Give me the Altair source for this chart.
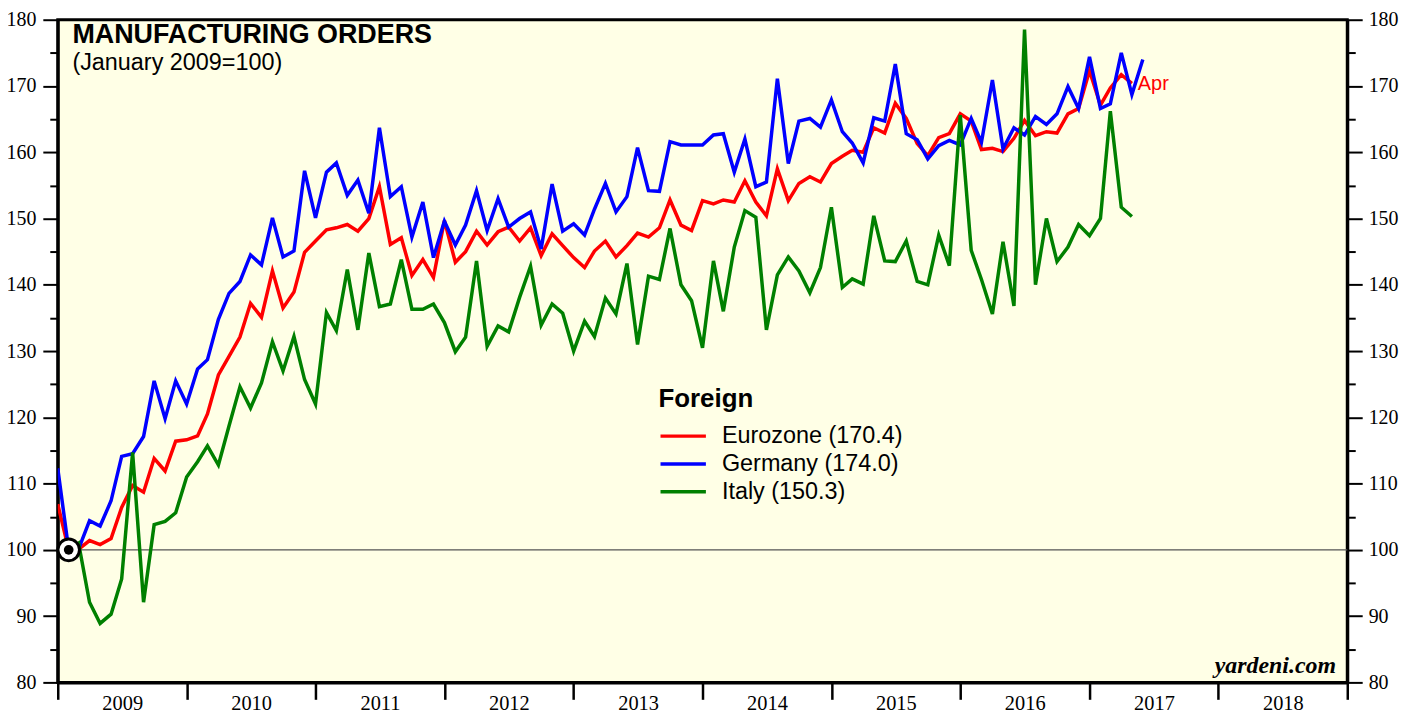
import altair as alt
import pandas as pd

TITLE = "MANUFACTURING ORDERS"
SUBTITLE = "(January 2009=100)"
LEGEND_TITLE = "Foreign"
SOURCE = "yardeni.com"
BASE = 100.0
BASE_MONTH = "2009-01"
FIRST_MONTH = "2008-12"

SERIES = ["Eurozone", "Germany", "Italy"]
COLORS = ["#ff0000", "#0000ff", "#008000"]

# monthly values, first entry = Dec 2008
eurozone = [
    106.9, 100.0, 100.1, 101.4, 100.8, 101.7, 106.4, 109.7, 108.7, 113.8, 111.9, 116.4, 116.6,
    117.2, 120.5, 126.4, 129.2, 132.1, 137.2, 135.1, 142.1, 136.5, 138.9, 144.9, 146.6,
    148.3, 148.6, 149.1, 148.1, 150.0, 154.8, 146.1, 147.1, 141.4, 143.8, 141.1, 149.7,
    143.4, 145.0, 148.1, 146.0, 148.0, 148.7, 146.6, 148.6, 144.4, 147.7, 145.9, 144.1,
    142.6, 145.1, 146.6, 144.2, 145.9, 147.8, 147.2, 148.6, 152.8, 149.0, 148.2, 152.7,
    152.2, 152.8, 152.5, 155.7, 152.5, 150.4, 157.5, 152.7, 155.3, 156.3, 155.5, 158.3,
    159.4, 160.3, 160.0, 163.7, 162.9, 167.4, 165.1, 161.3, 159.5, 162.2, 162.8, 165.8,
    164.7, 160.4, 160.6, 160.1, 162.1, 164.8, 162.5, 163.1, 162.9, 165.8, 166.6, 172.3,
    167.1, 169.7, 171.7, 170.4,
]
germany = [
    112.3, 100.0, 100.1, 104.4, 103.6, 107.4, 114.1, 114.5, 117.1, 125.5, 119.8, 125.5, 122.0,
    127.3, 128.7, 134.8, 138.7, 140.5, 144.5, 143.0, 150.1, 144.2, 145.1, 157.2, 150.1,
    157.0, 158.4, 153.5, 155.8, 150.8, 163.7, 153.3, 154.8, 147.2, 152.5, 144.1, 149.6,
    146.0, 149.0, 154.2, 148.2, 153.0, 148.7, 150.0, 151.0, 145.4, 155.2, 148.1, 149.2,
    147.5, 151.4, 155.3, 151.0, 153.3, 160.7, 154.2, 154.1, 161.6, 161.1, 161.1, 161.1,
    162.6, 162.8, 157.0, 162.0, 154.8, 155.5, 171.1, 158.3, 164.7, 165.1, 163.8, 167.9,
    163.1, 161.4, 158.4, 165.2, 164.7, 173.3, 162.8, 161.9, 159.0, 161.0, 161.8, 161.1,
    165.1, 161.5, 170.9, 160.5, 163.7, 162.6, 165.4, 164.2, 165.8, 169.9, 166.6, 174.4,
    166.6, 167.3, 175.0, 168.7, 174.0,
]
italy = [
    None, 100.0, 101.0, 92.1, 88.9, 90.3, 95.6, 114.7, 92.1, 103.8, 104.3, 105.6, 111.0,
    113.3, 115.7, 112.8, 118.7, 124.6, 121.4, 125.2, 131.4, 127.0, 132.2, 125.7, 122.0,
    135.8, 133.1, 142.3, 133.2, 144.8, 136.7, 137.1, 143.8, 136.3, 136.3, 137.1, 134.3,
    129.9, 132.1, 143.6, 130.7, 133.8, 132.9, 138.1, 142.8, 133.9, 137.1, 135.7, 130.0,
    134.5, 132.2, 138.0, 135.6, 143.2, 131.0, 141.3, 140.8, 148.5, 140.0, 137.6, 130.5,
    143.6, 136.0, 145.7, 151.2, 150.2, 133.2, 141.5, 144.2, 142.1, 138.8, 142.6, 151.7,
    139.6, 140.9, 140.1, 150.4, 143.6, 143.5, 146.6, 140.5, 140.0, 147.5, 142.9, 165.6,
    145.2, 140.8, 135.6, 146.5, 136.8, 178.5, 140.0, 150.0, 143.5, 145.7, 149.1, 147.4,
    150.0, 166.2, 151.7, 150.3,
]

YEAR_TICKS = list(range(2009, 2020))
Y_TICKS = list(range(80, 181, 5))

# ---------- tables ----------
rows = []
labels = []
for name, vals in zip(SERIES, [eurozone, germany, italy]):
    clean = [v for v in vals if v is not None]
    lab = f"{name} ({clean[-1]:.1f})"
    labels.append(lab)
    months = pd.period_range(FIRST_MONTH, periods=len(vals), freq="M")
    for m, v in zip(months, vals):
        if v is None:
            continue
        rows.append({"series": name, "label": lab, "month": str(m),
                     "mon": m.strftime("%b"), "date": (m + 1).to_timestamp(), "value": v})
df = pd.DataFrame(rows)

base_df = pd.DataFrame({"value": [BASE]})
marker_df = pd.DataFrame({"date": [(pd.Period(BASE_MONTH, freq="M") + 1).to_timestamp()],
                          "value": [BASE]})
euro = df[df.series == "Eurozone"]
last_df = euro.iloc[[-1]]

# ---------- scales & axes ----------
x_scale = alt.Scale(domain=[alt.DateTime(year=YEAR_TICKS[0], month=1, date=1),
                            alt.DateTime(year=YEAR_TICKS[-1], month=1, date=1)])
y_scale = alt.Scale(domain=[80, 180], nice=False, zero=False)

x_axis = alt.Axis(
    values=[alt.DateTime(year=y, month=1, date=1) for y in YEAR_TICKS],
    labelExpr=f"year(datum.value) >= {YEAR_TICKS[-1]} ? '' : timeFormat(datum.value, '%Y')",
    labelOffset=64.8, labelAlign="center", labelBaseline="top",
    labelFont="Liberation Serif", labelFontSize=20.5, labelColor="black",
    labelPadding=-5.5, labelFlush=False, labelOverlap=False, labelBound=False,
    tickSize=17, tickWidth=2.5, tickColor="black",
    domainWidth=3, domainColor="black", grid=False, title=None,
)

tick_cond = {"condition": {"test": "datum.value % 10 === 0", "value": 15}, "value": 8}


def y_axis(orient, pad):
    return alt.Axis(
        orient=orient, values=Y_TICKS,
        labelExpr="datum.value % 10 === 0 ? datum.label : ''",
        tickSize=tick_cond, tickWidth=2, tickColor="black",
        domainWidth=3, domainColor="black",
        labelFont="Liberation Serif", labelFontSize=20, labelColor="black",
        labelPadding=pad, labelFlush=False, labelOverlap=False,
        grid=False, title=None,
    )


X = alt.X("date:T", scale=x_scale, axis=x_axis)

rule = alt.Chart(base_df).mark_rule(color="#555555", strokeWidth=1.2).encode(
    y=alt.Y("value:Q", scale=y_scale, axis=y_axis("right", 6))
)

lines = alt.Chart(df).mark_line(strokeWidth=3.5, clip=True).encode(
    x=X,
    y=alt.Y("value:Q", scale=y_scale, axis=y_axis("left", 7)),
    color=alt.Color(
        "label:N", sort=labels,
        scale=alt.Scale(domain=labels, range=COLORS),
        legend=alt.Legend(
            title=LEGEND_TITLE, orient="none", legendX=603.7, legendY=368,
            titleFont="Liberation Sans", titleFontSize=26, titleFontWeight="bold",
            titleColor="black", titlePadding=11,
            labelFont="Liberation Sans", labelFontSize=23.5, labelColor="black",
            labelLimit=0,
            symbolType="M-1,0H3", symbolSize=520, symbolStrokeWidth=3.5,
            labelOffset=36.8, rowPadding=3, padding=0,
        ),
    ),
)

outer = alt.Chart(marker_df).mark_point(
    shape="circle", filled=True, fill="white", stroke="black", strokeWidth=3,
    size=470, opacity=1,
).encode(x=X, y=alt.Y("value:Q", scale=y_scale, axis=None))

inner = alt.Chart(marker_df).mark_point(
    shape="circle", filled=True, color="black", size=95, opacity=1,
).encode(x=X, y=alt.Y("value:Q", scale=y_scale, axis=None))

apr = alt.Chart(last_df).mark_text(
    align="left", baseline="alphabetic", dx=6, dy=7, color="#ff0000",
    font="Liberation Sans", fontSize=20,
).encode(x=X, y=alt.Y("value:Q", scale=y_scale, axis=None), text="mon:N")

title = alt.Chart(pd.DataFrame({"t": [TITLE]})).mark_text(
    align="left", baseline="alphabetic", font="Liberation Sans", fontSize=27,
    fontWeight="bold", color="black",
).encode(x=alt.value(14.7), y=alt.value(23), text="t:N")

subtitle = alt.Chart(pd.DataFrame({"t": [SUBTITLE]})).mark_text(
    align="left", baseline="alphabetic", font="Liberation Sans", fontSize=23.5,
    color="black",
).encode(x=alt.value(14.7), y=alt.value(50.5), text="t:N")

source = alt.Chart(pd.DataFrame({"t": [SOURCE]})).mark_text(
    align="right", baseline="alphabetic", font="Liberation Serif", fontSize=24,
    fontWeight="bold", fontStyle="italic", color="black",
).encode(x=alt.value(1284.7), y=alt.value(657), text="t:N")

chart = (
    alt.layer(rule, lines, outer, inner, apr, title, subtitle, source)
    .resolve_axis(y="independent")
    .properties(
        width=1296, height=666,
        autosize=alt.AutoSizeParams(type="none"),
        padding={"left": 50, "top": 10, "right": 54, "bottom": 32},
        background="white",
    )
    .configure_view(fill="#FFFFE6", stroke="black", strokeWidth=3)
)

chart.save("out.html", embed_options={"renderer": "svg", "actions": False})
